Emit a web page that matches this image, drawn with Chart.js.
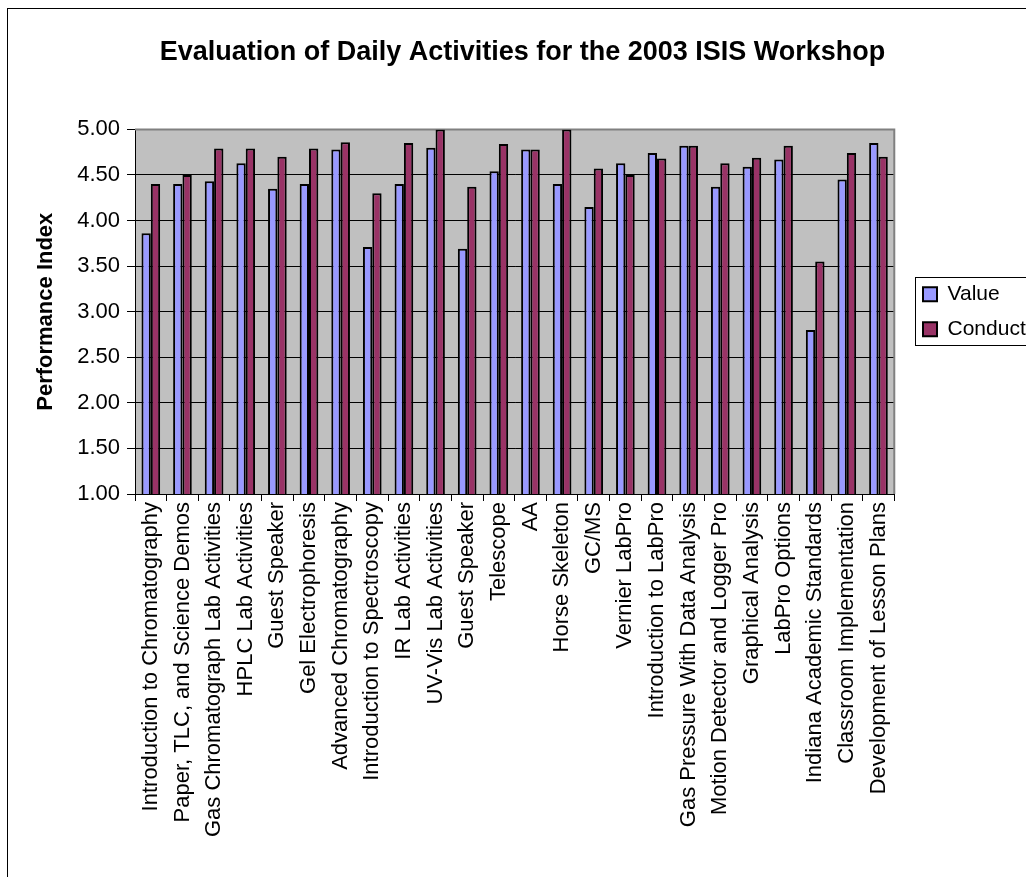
<!DOCTYPE html>
<html>
<head>
<meta charset="utf-8">
<script src="https://cdn.jsdelivr.net/npm/chart.js@4"></script>
<style>
  html, body { margin: 0; padding: 0; background: #fff; }
  #wrap { width: 1026px; height: 877px; }
</style>
</head>
<body>
<div id="wrap"><canvas id="isis-chart" width="1026" height="877"></canvas></div>
<script>
const activities = [
  'Introduction to Chromatography', 'Paper, TLC, and Science Demos', 'Gas Chromatograph Lab Activities',
  'HPLC Lab Activities', 'Guest Speaker', 'Gel Electrophoresis', 'Advanced Chromatography',
  'Introduction to Spectroscopy', 'IR Lab Activities', 'UV-Vis Lab Activities', 'Guest Speaker',
  'Telescope', 'AA', 'Horse Skeleton', 'GC/MS', 'Vernier LabPro', 'Introduction to LabPro',
  'Gas Pressure With Data Analysis', 'Motion Detector and Logger Pro', 'Graphical Analysis',
  'LabPro Options', 'Indiana Academic Standards', 'Classroom Implementation', 'Development of Lesson Plans'
];
const valueScores = [3.86, 4.40, 4.43, 4.63, 4.35, 4.40, 4.78, 3.71, 4.40, 4.80, 3.69, 4.54,
                     4.78, 4.40, 4.15, 4.63, 4.74, 4.82, 4.37, 4.59, 4.67, 2.80, 4.45, 4.85];
const conductScores = [4.40, 4.50, 4.79, 4.79, 4.70, 4.79, 4.86, 4.30, 4.85, 5.00, 4.37, 4.84,
                       4.78, 5.00, 4.57, 4.50, 4.68, 4.82, 4.63, 4.69, 4.82, 3.55, 4.74, 4.70];
const yMin = 1, yMax = 5, yStep = 0.5;

const FONT = "'Liberation Sans', Arial, sans-serif";

// white page, outer frame, grey plot area, boxed legend
const excelLook = {
  id: 'excelLook',
  beforeDraw(chart) {
    const ctx = chart.ctx;
    const a = chart.chartArea;
    ctx.save();
    ctx.fillStyle = '#fff';
    ctx.fillRect(0, 0, chart.width, chart.height);
    ctx.strokeStyle = '#000';
    ctx.lineWidth = 1;
    ctx.strokeRect(7.5, 8.5, 1200, 1200);
    ctx.fillStyle = '#c0c0c0';
    ctx.fillRect(a.left, a.top, a.right - a.left, a.bottom - a.top);
    ctx.restore();
  },
  beforeDatasetsDraw(chart) {
    const ctx = chart.ctx;
    const a = chart.chartArea;
    ctx.save();
    ctx.strokeStyle = '#808080';
    ctx.lineWidth = 2;
    ctx.beginPath();
    ctx.moveTo(a.left, a.top);
    ctx.lineTo(a.right, a.top);
    ctx.lineTo(a.right, a.bottom);
    ctx.stroke();
    ctx.restore();
  },
  afterLayout(chart) {
    // move the legend next to the plot, centred on it, like excel does
    const lg = chart.legend;
    const a = chart.chartArea;
    const w = lg.right - lg.left;
    lg.left = 909;
    lg.right = 909 + w;
    lg.top = a.top;
    lg.bottom = a.bottom;
  },
  afterDraw(chart) {
    const ctx = chart.ctx;
    ctx.save();
    ctx.strokeStyle = '#000';
    ctx.lineWidth = 1;
    ctx.strokeRect(915.5, 277.5, 200, 68);
    ctx.restore();
  }
};

const chart = new Chart(document.getElementById('isis-chart'), {
  type: 'bar',
  data: {
    labels: activities,
    datasets: [{
      label: 'Value',
      data: valueScores,
      backgroundColor: '#9999ff',
      borderColor: '#000',
      borderWidth: 2,
      borderSkipped: false
    }, {
      label: 'Conduct',
      data: conductScores,
      backgroundColor: '#993366',
      borderColor: '#000',
      borderWidth: 2,
      borderSkipped: false
    }]
  },
  options: {
    responsive: false,
    animation: false,
    devicePixelRatio: 1,
    datasets: { bar: { categoryPercentage: 0.59, barPercentage: 1.0 } },
    layout: { padding: { left: 24, right: 5, top: 0, bottom: 0 } },
    scales: {
      x: {
        afterFit(scale) { scale.height = 383; },
        border: { display: true, color: '#000', width: 1 },
        grid: { offset: true, drawOnChartArea: false, drawTicks: true, tickLength: 7, tickColor: '#000' },
        ticks: {
          autoSkip: false, minRotation: 90, maxRotation: 90, padding: 1,
          color: '#000', font: { family: FONT, size: 22 }
        }
      },
      y: {
        min: yMin,
        max: yMax,
        afterFit(scale) { scale.width = 111; },
        border: { display: true, color: '#000', width: 1 },
        grid: {
          color: ctx => ctx.tick && ctx.tick.value === yMax ? '#808080' : '#000',
          lineWidth: 1, tickLength: 8, tickColor: '#000'
        },
        ticks: {
          stepSize: yStep, padding: 7, color: '#000',
          font: { family: FONT, size: 22 },
          callback: v => Number(v).toFixed(2)
        },
        title: {
          display: true, text: 'Performance Index', color: '#000',
          font: { family: FONT, size: 22, weight: 'bold' },
          padding: { top: 9, bottom: 0 }
        }
      }
    },
    plugins: {
      title: {
        display: true,
        text: 'Evaluation of Daily Activities for the 2003 ISIS Workshop',
        color: '#000',
        font: { family: FONT, size: 27, weight: 'bold' },
        padding: { top: 36, bottom: 61 }
      },
      legend: {
        position: 'right',
        labels: {
          boxWidth: 14, boxHeight: 14, padding: 14, color: '#000',
          font: { family: FONT, size: 21 },
          generateLabels(c) {
            return c.data.datasets.map((ds, i) => ({
              text: ds.label, fillStyle: ds.backgroundColor, strokeStyle: '#000',
              lineWidth: 2, hidden: false, datasetIndex: i, fontColor: '#000'
            }));
          }
        }
      },
      tooltip: { enabled: false }
    }
  },
  plugins: [excelLook]
});
</script>
</body>
</html>
